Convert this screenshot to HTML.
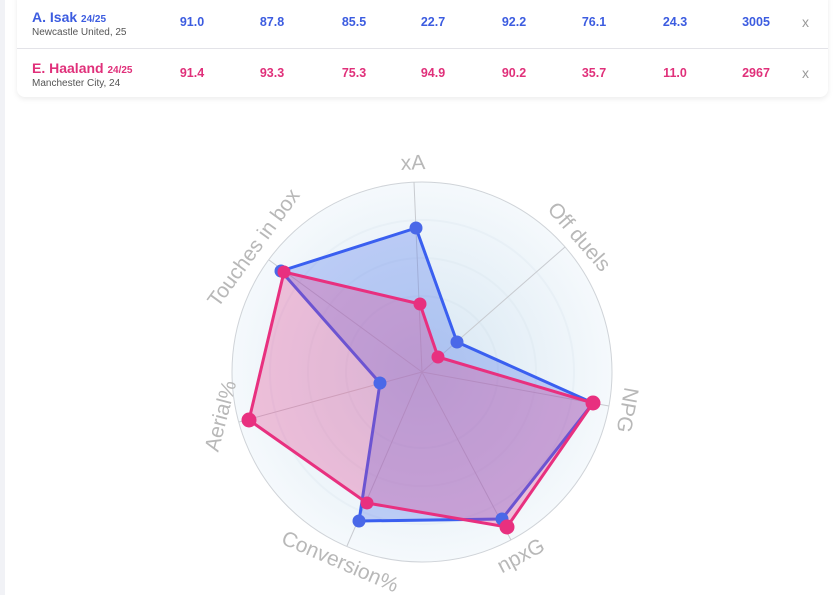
<!DOCTYPE html>
<html><head><meta charset="utf-8"><style>
body{margin:0;width:836px;height:595px;background:#fff;font-family:"Liberation Sans",Arial,sans-serif;overflow:hidden;position:relative}
.lb{position:absolute;left:0;top:0;width:5px;height:595px;background:#f1f2f6}
.card{position:absolute;left:17px;top:-10px;width:811px;height:107px;background:#fff;border-radius:8px;box-shadow:0 2px 6px rgba(0,0,0,.08)}
.row{position:absolute;left:0;width:811px;height:48px}
.nm{position:absolute;left:15px;top:9px;font-weight:bold;font-size:14px}
.nm small{font-size:10px}
.tm{position:absolute;left:15px;top:27px;font-size:10px;color:#555}
.v{position:absolute;top:15px;font-size:12.5px;font-weight:bold;transform:translateX(-50%)}
.x{position:absolute;left:785px;top:14px;color:#999;font-size:14px}
.b{color:#3c5ce0}.p{color:#e0307a}
</style></head><body>
<div class="lb"></div>
<div class="card">
<div class="row b" style="top:10px">
<div class="nm">A. Isak <small>24/25</small></div><div class="tm">Newcastle United, 25</div>
<div class="v" style="left:175px">91.0</div><div class="v" style="left:255px">87.8</div><div class="v" style="left:337px">85.5</div><div class="v" style="left:416px">22.7</div><div class="v" style="left:497px">92.2</div><div class="v" style="left:577px">76.1</div><div class="v" style="left:658px">24.3</div><div class="v" style="left:739px">3005</div><div class="x">x</div>
</div>
<div style="position:absolute;left:0;top:58px;width:811px;height:1px;background:#e3e3e8"></div>
<div class="row p" style="top:61px">
<div class="nm">E. Haaland <small>24/25</small></div><div class="tm">Manchester City, 24</div>
<div class="v" style="left:175px">91.4</div><div class="v" style="left:255px">93.3</div><div class="v" style="left:337px">75.3</div><div class="v" style="left:416px">94.9</div><div class="v" style="left:497px">90.2</div><div class="v" style="left:577px">35.7</div><div class="v" style="left:658px">11.0</div><div class="v" style="left:739px">2967</div><div class="x">x</div>
</div>
</div>
<svg width="836" height="595" style="position:absolute;left:0;top:0">
<defs><radialGradient id="g" cx="422" cy="372" r="190" gradientUnits="userSpaceOnUse">
<stop offset="0" stop-color="#d6e6f2"/><stop offset="1" stop-color="#f5f9fc"/></radialGradient></defs>
<circle cx="422" cy="372" r="190" fill="url(#g)" stroke="#cfd3d8"/>
<circle cx="422" cy="372" r="152" fill="none" stroke="#e8f0f6" stroke-width="2"/>
<circle cx="422" cy="372" r="114" fill="none" stroke="#e3edf4" stroke-width="2"/>
<circle cx="422" cy="372" r="76" fill="none" stroke="#dde9f2" stroke-width="2"/>
<g stroke="#c8cbd0" stroke-width="1">
<line x1="422" y1="372" x2="414" y2="182"/><line x1="422" y1="372" x2="565" y2="247"/><line x1="422" y1="372" x2="609" y2="406"/><line x1="422" y1="372" x2="511" y2="540"/><line x1="422" y1="372" x2="347" y2="546"/><line x1="422" y1="372" x2="239" y2="422"/><line x1="422" y1="372" x2="269" y2="260"/>
</g>
<polygon points="416,228 457,342 593,403 502,519 359,521 380,383 281,271" fill="rgba(70,110,235,0.3)" stroke="#3a5ff0" stroke-width="3" stroke-linejoin="round"/>
<polygon points="420,304 438,357 593,403 507,527 367,503 249,420 284,272" fill="rgba(225,60,140,0.3)" stroke="#e8307f" stroke-width="3" stroke-linejoin="round"/>
<g fill="#4a68e8"><circle cx="416" cy="228" r="6.5"/><circle cx="457" cy="342" r="6.5"/><circle cx="502" cy="519" r="6.5"/><circle cx="359" cy="521" r="6.5"/><circle cx="380" cy="383" r="6.5"/><circle cx="281" cy="271" r="6.5"/></g>
<g fill="#e8307f"><circle cx="420" cy="304" r="6.5"/><circle cx="438" cy="357" r="6.5"/><circle cx="593" cy="403" r="7.5"/><circle cx="507" cy="527" r="7.5"/><circle cx="367" cy="503" r="6.5"/><circle cx="249" cy="420" r="7.5"/><circle cx="284" cy="272" r="6.5"/></g>
<g fill="#b8b8b8" font-size="21" text-anchor="middle" dominant-baseline="central" font-family="Liberation Sans,Arial,sans-serif">
<text transform="translate(413,163) rotate(-2.4)">xA</text>
<text transform="translate(579,237) rotate(49)">Off duels</text>
<text transform="translate(627,410) rotate(100.4)">NPG</text>
<text transform="translate(521,556) rotate(-28.1)">npxG</text>
<text transform="translate(340,562) rotate(23.3)">Conversion%</text>
<text transform="translate(221,416) rotate(-75.3)">Aerial%</text>
<text transform="translate(254,248) rotate(-53.8)">Touches in box</text>
</g>
</svg>
</body></html>
